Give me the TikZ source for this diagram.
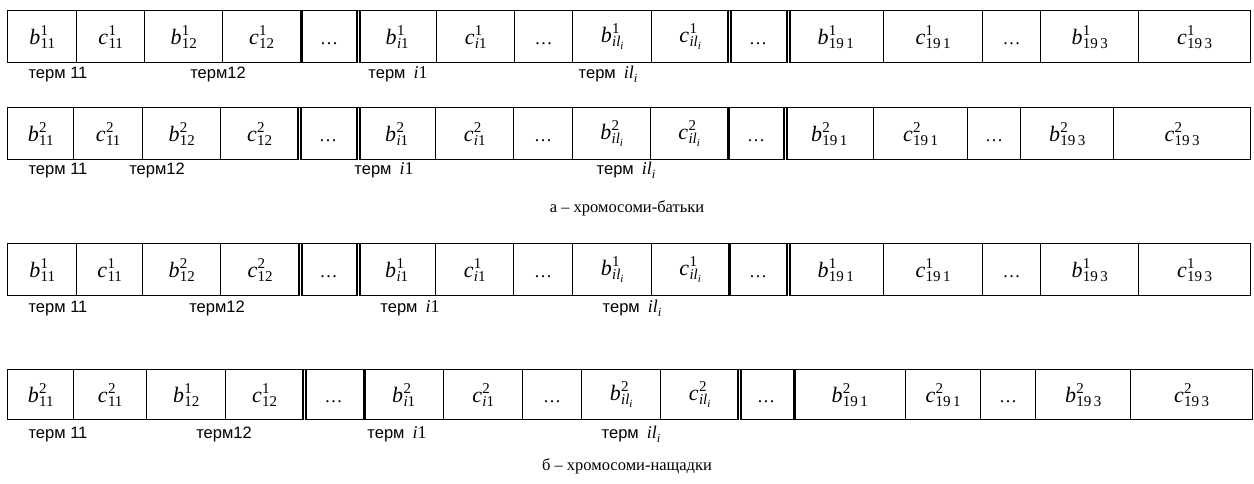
\documentclass[tikz,border=0pt]{standalone}
\usepackage{fontspec}
\setmainfont{Liberation Serif}
\newfontfamily\labelfont{Liberation Sans}
\usetikzlibrary{calc}

% font sizes for gene values
\newcommand\gsz{\fontsize{22}{22}\selectfont}
\newcommand\ssz{\fontsize{15}{15}\selectfont}
\newcommand\sssz{\fontsize{11}{11}\selectfont}
% gene value: letter, superscript (parent number), subscript (term index)
\newcommand\gv[3]{{\gsz\itshape #1}\kern0.3pt\rlap{\raisebox{9pt}{\ssz #2}}{\raisebox{-4pt}{\ssz #3}}}
\newcommand\ione{\textit{i}1}
\newcommand\ili{\textit{il}\raisebox{-3pt}{\sssz\itshape i}}
\newcommand\nta{19\kern2.5pt1}
\newcommand\ntc{19\kern2.5pt3}
% ellipsis cell, on the same baseline as the gene values
\newcommand\gdots{\vphantom{\gv{b}{1}{11}}{\fontsize{18}{18}\selectfont\dots}}
% term labels
\newcommand\tlab[1]{{\labelfont\fontsize{16.5}{16.5}\selectfont терм#1}}
\newcommand\tli{\kern8pt{\fontsize{18}{18}\selectfont\rmfamily\textit{i}1}}
\newcommand\tlil{\kern8pt{\fontsize{18}{18}\selectfont\rmfamily\textit{il}\raisebox{-4pt}{\fontsize{12.5}{12.5}\selectfont\itshape i}}}

\tikzset{
  cellbox/.style={draw, line width=1.4pt, inner sep=0pt, anchor=north west},
  thicksep/.style={line width=3.6pt},
  dblsep/.style={double, line width=1.2pt, double distance=1.8pt,
                 shorten <=0.7pt, shorten >=0.7pt},
  termlab/.style={inner sep=0pt, anchor=base},
  caption/.style={font=\fontsize{16.5}{16.5}\selectfont, inner sep=0pt}
}

% one cell of a chromosome row: name, left x, right x, content
\newcommand\cell[4]{%
  \node[cellbox, minimum width={(#3-#2)*1pt}, minimum height={(\rb-\rt)*1pt}]
    (#1) at (#2,-\rt) {#4};}

\begin{document}
\begin{tikzpicture}[x=1pt, y=1pt]
\useasboundingbox (0,0) rectangle (1254,-484);

% ---- row 1: first parent ----
\def\rt{10}\def\rb{62}
\cell{a1}{7}{76}{\gv{b}{1}{11}}
\cell{a2}{76}{144}{\gv{c}{1}{11}}
\cell{a3}{144}{222}{\gv{b}{1}{12}}
\cell{a4}{222}{300}{\gv{c}{1}{12}}
\cell{a5}{300}{357}{\gdots}
\cell{a6}{357}{436}{\gv{b}{1}{\ione}}
\cell{a7}{436}{514}{\gv{c}{1}{\ione}}
\cell{a8}{514}{572}{\gdots}
\cell{a9}{572}{651}{\gv{b}{1}{\ili}}
\cell{a10}{651}{728}{\gv{c}{1}{\ili}}
\cell{a11}{728}{787}{\gdots}
\cell{a12}{787}{883}{\gv{b}{1}{\nta}}
\cell{a13}{883}{982}{\gv{c}{1}{\nta}}
\cell{a14}{982}{1040}{\gdots}
\cell{a15}{1040}{1138}{\gv{b}{1}{\ntc}}
\cell{a16}{1138}{1250}{\gv{c}{1}{\ntc}}
\draw[thicksep] (a4.north east) -- (a4.south east);
\draw[dblsep] (a5.north east) -- (a5.south east);
\draw[dblsep] (a10.north east) -- (a10.south east);
\draw[dblsep] (a11.north east) -- (a11.south east);
\node[termlab] (la1) at (58,-79) {\tlab{ 11}};
\node[termlab] (la2) at (218,-79) {\tlab{12}};
\node[termlab] (la3) at (398,-79) {\tlab{\tli}};
\node[termlab] (la4) at (608,-79) {\tlab{\tlil}};

% ---- row 2: second parent ----
\def\rt{107}\def\rb{159}
\cell{b1}{7}{73}{\gv{b}{2}{11}}
\cell{b2}{73}{142}{\gv{c}{2}{11}}
\cell{b3}{142}{220}{\gv{b}{2}{12}}
\cell{b4}{220}{298}{\gv{c}{2}{12}}
\cell{b5}{298}{357}{\gdots}
\cell{b6}{357}{435}{\gv{b}{2}{\ione}}
\cell{b7}{435}{513}{\gv{c}{2}{\ione}}
\cell{b8}{513}{572}{\gdots}
\cell{b9}{572}{650}{\gv{b}{2}{\ili}}
\cell{b10}{650}{727}{\gv{c}{2}{\ili}}
\cell{b11}{727}{784}{\gdots}
\cell{b12}{784}{873}{\gv{b}{2}{\nta}}
\cell{b13}{873}{967}{\gv{c}{2}{\nta}}
\cell{b14}{967}{1020}{\gdots}
\cell{b15}{1020}{1113}{\gv{b}{2}{\ntc}}
\cell{b16}{1113}{1250}{\gv{c}{2}{\ntc}}
\draw[dblsep] (b4.north east) -- (b4.south east);
\draw[dblsep] (b5.north east) -- (b5.south east);
\draw[thicksep] (b10.north east) -- (b10.south east);
\draw[dblsep] (b11.north east) -- (b11.south east);
\node[termlab] (lb1) at (58,-175) {\tlab{ 11}};
\node[termlab] (lb2) at (157,-175) {\tlab{12}};
\node[termlab] (lb3) at (384,-175) {\tlab{\tli}};
\node[termlab] (lb4) at (626,-175) {\tlab{\tlil}};

\node[caption] (capa) at (627,-208) {а – хромосоми-батьки};

% ---- row 3: first offspring ----
\def\rt{243}\def\rb{295}
\cell{c1}{7}{76}{\gv{b}{1}{11}}
\cell{c2}{76}{142}{\gv{c}{1}{11}}
\cell{c3}{142}{220}{\gv{b}{2}{12}}
\cell{c4}{220}{299}{\gv{c}{2}{12}}
\cell{c5}{299}{357}{\gdots}
\cell{c6}{357}{435}{\gv{b}{1}{\ione}}
\cell{c7}{435}{513}{\gv{c}{1}{\ione}}
\cell{c8}{513}{572}{\gdots}
\cell{c9}{572}{651}{\gv{b}{1}{\ili}}
\cell{c10}{651}{728}{\gv{c}{1}{\ili}}
\cell{c11}{728}{787}{\gdots}
\cell{c12}{787}{883}{\gv{b}{1}{\nta}}
\cell{c13}{883}{982}{\gv{c}{1}{\nta}}
\cell{c14}{982}{1040}{\gdots}
\cell{c15}{1040}{1138}{\gv{b}{1}{\ntc}}
\cell{c16}{1138}{1250}{\gv{c}{1}{\ntc}}
\draw[dblsep] (c4.north east) -- (c4.south east);
\draw[dblsep] (c5.north east) -- (c5.south east);
\draw[thicksep] (c10.north east) -- (c10.south east);
\draw[dblsep] (c11.north east) -- (c11.south east);
\node[termlab] (lc1) at (58,-312) {\tlab{ 11}};
\node[termlab] (lc2) at (217,-312) {\tlab{12}};
\node[termlab] (lc3) at (410,-312) {\tlab{\tli}};
\node[termlab] (lc4) at (632,-312) {\tlab{\tlil}};

% ---- row 4: second offspring ----
\def\rt{369}\def\rb{419}
\cell{d1}{7}{73}{\gv{b}{2}{11}}
\cell{d2}{73}{146}{\gv{c}{2}{11}}
\cell{d3}{146}{225}{\gv{b}{1}{12}}
\cell{d4}{225}{303}{\gv{c}{1}{12}}
\cell{d5}{303}{363}{\gdots}
\cell{d6}{363}{443}{\gv{b}{2}{\ione}}
\cell{d7}{443}{522}{\gv{c}{2}{\ione}}
\cell{d8}{522}{581}{\gdots}
\cell{d9}{581}{660}{\gv{b}{2}{\ili}}
\cell{d10}{660}{738}{\gv{c}{2}{\ili}}
\cell{d11}{738}{793}{\gdots}
\cell{d12}{793}{905}{\gv{b}{2}{\nta}}
\cell{d13}{905}{980}{\gv{c}{2}{\nta}}
\cell{d14}{980}{1035}{\gdots}
\cell{d15}{1035}{1130}{\gv{b}{2}{\ntc}}
\cell{d16}{1130}{1252}{\gv{c}{2}{\ntc}}
\draw[dblsep] (d4.north east) -- (d4.south east);
\draw[thicksep] (d5.north east) -- (d5.south east);
\draw[dblsep] (d10.north east) -- (d10.south east);
\draw[thicksep] (d11.north east) -- (d11.south east);
\node[termlab] (ld1) at (58,-438) {\tlab{ 11}};
\node[termlab] (ld2) at (224,-438) {\tlab{12}};
\node[termlab] (ld3) at (397,-438) {\tlab{\tli}};
\node[termlab] (ld4) at (631,-438) {\tlab{\tlil}};

\node[caption] (capb) at (627,-466) {б – хромосоми-нащадки};
\end{tikzpicture}
\end{document}
